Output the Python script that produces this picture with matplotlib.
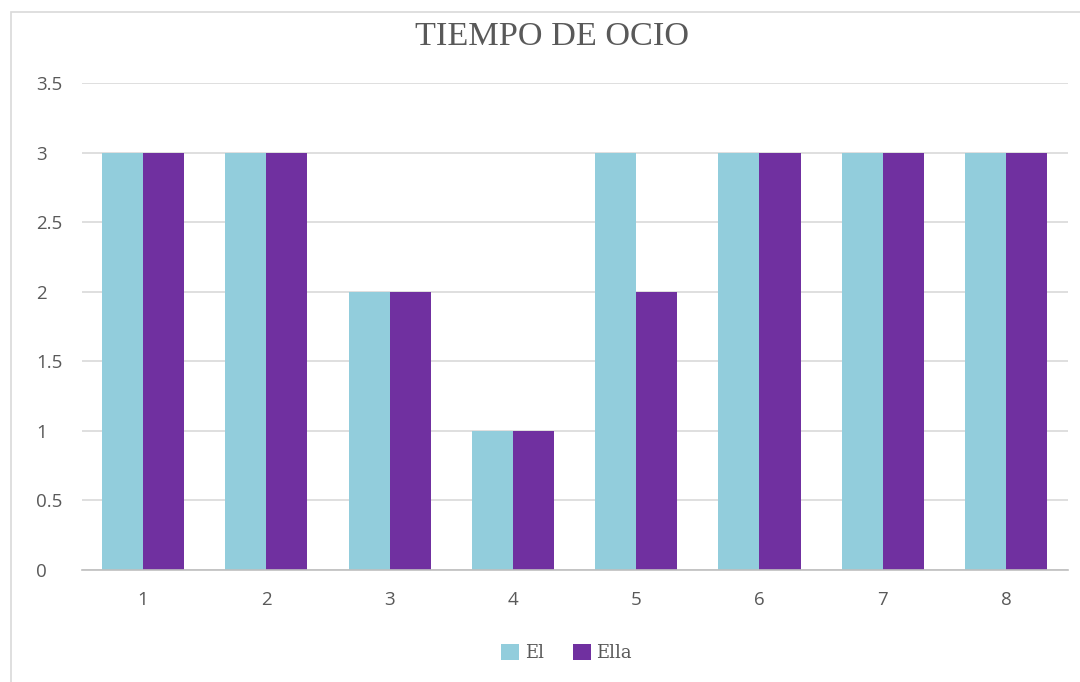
import matplotlib.pyplot as plt
import numpy as np
from matplotlib.patches import Rectangle

# Data
categories = ['1', '2', '3', '4', '5', '6', '7', '8']
el_vals = [3, 3, 2, 1, 3, 3, 3, 3]
ella_vals = [3, 3, 2, 1, 2, 3, 3, 3]
yticks = [0, 0.5, 1, 1.5, 2, 2.5, 3, 3.5]
ytick_labels = ['0', '0.5', '1', '1.5', '2', '2.5', '3', '3.5']

C_EL = '#92CDDC'
C_ELLA = '#7030A0'
C_GRID = '#D9D9D9'
C_TXT = '#595959'

fig = plt.figure(figsize=(10.8, 6.82), dpi=100, facecolor='white')

# outer chart frame (clipped at right/bottom)
fig.patches.append(Rectangle((11 / 1080, -0.05), 1.2, 1 - 12 / 682 + 0.05,
                             transform=fig.transFigure, fill=False,
                             edgecolor='#D9D9D9', linewidth=1.2))

ax = fig.add_axes([81.5 / 1080, 1 - 570 / 682, (1067.6 - 81.5) / 1080, (570 - 83) / 682])

x = np.arange(len(categories))
w = 1 / 3
ax.bar(x - w / 2, el_vals, width=w, color=C_EL, label='El', zorder=2)
ax.bar(x + w / 2, ella_vals, width=w, color=C_ELLA, label='Ella', zorder=2)

ax.set_xlim(-0.5, len(categories) - 0.5)
ax.set_ylim(0, 3.5)
ax.set_xticks(x)
ax.set_xticklabels(categories)
ax.set_yticks(yticks)
ax.set_yticklabels(ytick_labels)

for s in ['top', 'right', 'left']:
    ax.spines[s].set_visible(False)
ax.spines['bottom'].set_color('#BFBFBF')
ax.spines['bottom'].set_linewidth(1.2)
ax.spines['bottom'].set_zorder(3)
ax.grid(axis='y', color=C_GRID, linewidth=1.2, zorder=0)
ax.set_axisbelow(True)
ax.tick_params(axis='both', length=0, colors=C_TXT, labelsize=13.5)
ax.tick_params(axis='y', pad=32.5)
ax.tick_params(axis='x', pad=15)
for lbl in ax.get_xticklabels() + ax.get_yticklabels():
    lbl.set_family('Open Sans')
for lbl in ax.get_yticklabels():
    lbl.set_horizontalalignment('left')

fig.text(552 / 1080, 1 - 37 / 682, 'TIEMPO DE OCIO', ha='center', va='center',
         fontsize=24.7, color=C_TXT, family='Liberation Serif')

ax.legend(loc='center', bbox_to_anchor=(0.492, -0.17), ncol=2, frameon=False,
          handlelength=1.0, handleheight=1.0, handletextpad=0.3, columnspacing=1.6,
          prop={'family': 'DejaVu Serif', 'size': 13}, labelcolor=C_TXT)

fig.savefig('out.png', dpi=100)
